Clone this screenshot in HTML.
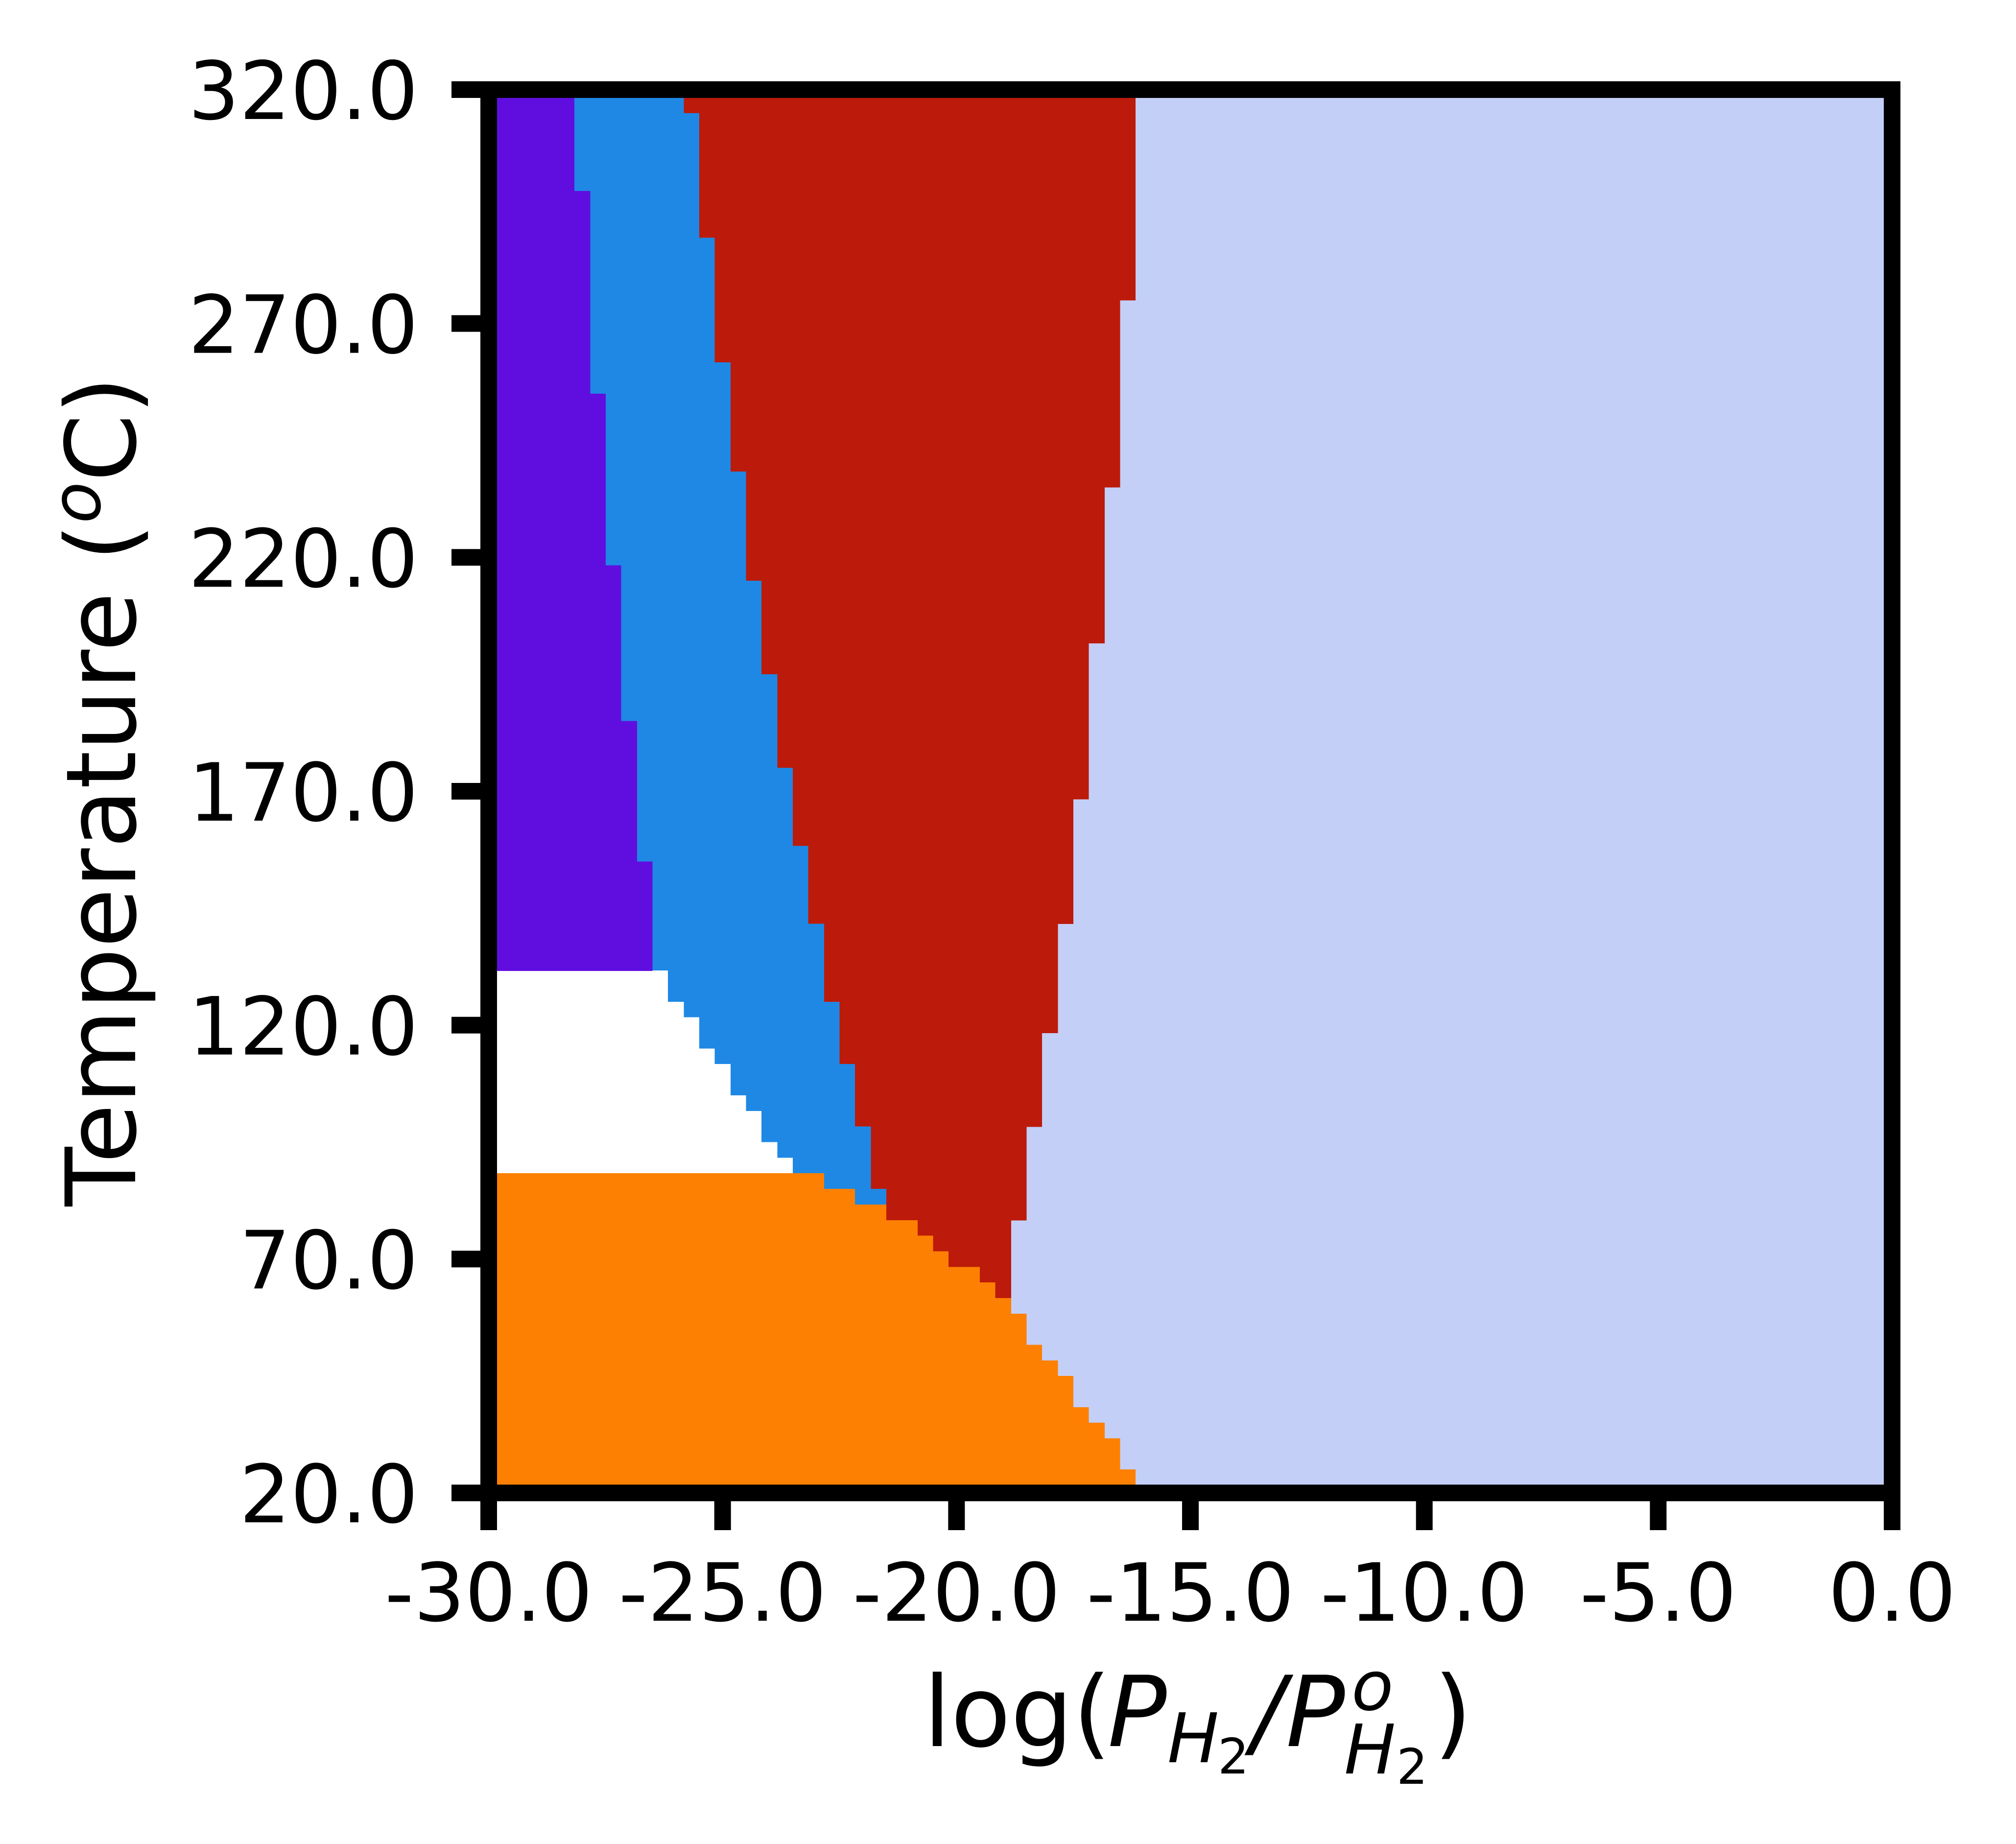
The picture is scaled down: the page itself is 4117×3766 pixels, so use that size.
<!DOCTYPE html>
<html><head><meta charset="utf-8"><style>
html,body{margin:0;padding:0;background:#fff;}
svg{display:block;}
text{font-family:"DejaVu Sans","Liberation Sans",sans-serif;fill:#000;}
</style></head>
<body>
<svg id="chart" xmlns="http://www.w3.org/2000/svg" width="4117" height="3766" viewBox="0 0 4117 3766">
<rect width="4117" height="3766" fill="#fff"/>
<g id="regions"></g>
<g id="axes"></g>
<text transform="translate(276,1616) rotate(-90)" text-anchor="middle" font-size="198">Temperature (<tspan font-style="italic" font-size="139" dy="-72">o</tspan><tspan dy="72">C)</tspan></text>
<g>
<text x="1886" y="3566" font-size="200">log(</text>
<text x="2262" y="3566" font-size="200" font-style="italic">P</text>
<text x="2384" y="3599" font-size="140" font-style="italic">H</text>
<text x="2487" y="3622" font-size="100">2</text>
<text x="2556" y="3566" font-size="200" font-style="italic">/</text>
<text x="2626" y="3566" font-size="200" font-style="italic">P</text>
<text x="2760" y="3492" font-size="140" font-style="italic">o</text>
<text x="2745" y="3622" font-size="140" font-style="italic">H</text>
<text x="2852" y="3643" font-size="100">2</text>
<text x="2928" y="3566" font-size="200">)</text>
</g>
</svg>
<script>
// Step boundaries: T band edges (°C) and x boundary value (log P) per band
const redT = [61.67, 78.33, 98.33, 118.33, 141.67, 168.33, 201.67, 235, 275, 320];
const redX = [-18.83, -18.5, -18.17, -17.83, -17.5, -17.17, -16.83, -16.5, -16.17];
const blueT = [78.33, 85, 98.33, 111.67, 125, 141.67, 158.33, 175, 195, 215, 238.33, 261.67, 288.33, 315, 320];
const blueX = [-21.5, -21.83, -22.17, -22.5, -22.83, -23.17, -23.5, -23.83, -24.17, -24.5, -24.83, -25.17, -25.5, -25.83];
const whiteT = [88.33, 91.67, 95, 101.67, 105, 111.67, 115, 121.67, 125, 131.67];
const whiteX = [-23.5, -23.83, -24.17, -24.5, -24.83, -25.17, -25.5, -25.83, -26.17];
const purpleT = [131.67, 155, 185, 218.33, 255, 298.33, 320];
const purpleX = [-26.5, -26.83, -27.17, -27.5, -27.83, -28.17];
const orangeT = [20, 25, 31.67, 35, 38.33, 45, 48.33, 51.67, 58.33, 61.67, 65, 68.33, 71.67, 75, 78.33, 81.67, 85, 88.33];
const orangeX = [-16.17, -16.5, -16.83, -17.17, -17.5, -17.83, -18.17, -18.5, -18.83, -19.17, -19.5, -20.17, -20.5, -20.83, -21.5, -22.17, -22.83];
const xTicks = [-30, -25, -20, -15, -10, -5, 0];
const yTicks = [20, 70, 120, 170, 220, 270, 320];
const xTickLabels = ["-30.0", "-25.0", "-20.0", "-15.0", "-10.0", "-5.0", "0.0"];
const yTickLabels = ["20.0", "70.0", "120.0", "170.0", "220.0", "270.0", "320.0"];

const X0 = 998, X1 = 3864, Y0 = 3049, Y1 = 183;
const XMIN = -30, XMAX = 0, TMIN = 20, TMAX = 320;
function sx(v){ return X0 + (v - XMIN) / (XMAX - XMIN) * (X1 - X0); }
function sy(t){ return Y0 - (t - TMIN) / (TMAX - TMIN) * (Y0 - Y1); }
const NS = "http://www.w3.org/2000/svg";
const regions = document.getElementById('regions');
const axes = document.getElementById('axes');

function bg(){
  const r = document.createElementNS(NS, 'rect');
  r.setAttribute('x', sx(XMIN)); r.setAttribute('y', sy(TMAX));
  r.setAttribute('width', sx(XMAX) - sx(XMIN)); r.setAttribute('height', sy(TMIN) - sy(TMAX));
  r.setAttribute('fill', '#c4cff7');
  
  
  regions.appendChild(r);
}
function layer(ts, xs, color, name){
  const g = document.createElementNS(NS, 'g');
  
  
  for (let i = 0; i < xs.length; i++){
    const r = document.createElementNS(NS, 'rect');
    const top = sy(ts[i+1]), bot = sy(ts[i]);
    r.setAttribute('x', sx(XMIN));
    r.setAttribute('y', top);
    r.setAttribute('width', Math.max(0, sx(xs[i]) - sx(XMIN)));
    r.setAttribute('height', bot - top + 0.6);
    r.setAttribute('fill', color);
    r.setAttribute('shape-rendering', 'crispEdges');
    
    
    g.appendChild(r);
  }
  regions.appendChild(g);
}
bg();
layer(redT, redX, '#bc1a0a', 'region-red');
layer(blueT, blueX, '#1f88e4', 'region-blue');
layer(whiteT, whiteX, '#ffffff', 'region-white');
layer(purpleT, purpleX, '#600ee0', 'region-purple');
layer(orangeT, orangeX, '#fd8002', 'region-orange');

// spines
const sp = document.createElementNS(NS, 'rect');
sp.setAttribute('x', X0); sp.setAttribute('y', Y1);
sp.setAttribute('width', X1 - X0); sp.setAttribute('height', Y0 - Y1);
sp.setAttribute('fill', 'none'); sp.setAttribute('stroke', '#000'); sp.setAttribute('stroke-width', 34);


axes.appendChild(sp);

xTicks.forEach((v, i) => {
  const x = sx(v);
  const t = document.createElementNS(NS, 'rect');
  t.setAttribute('x', x - 17); t.setAttribute('y', Y0); t.setAttribute('width', 34); t.setAttribute('height', 76);
  t.setAttribute('fill', '#000');
  
  
  axes.appendChild(t);
  const l = document.createElementNS(NS, 'text');
  l.setAttribute('x', x); l.setAttribute('y', 3310);
  l.setAttribute('text-anchor', 'middle'); l.setAttribute('font-size', 164);
  l.textContent = xTickLabels[i];
  
  
  axes.appendChild(l);
});
yTicks.forEach((v, i) => {
  const y = sy(v);
  const t = document.createElementNS(NS, 'rect');
  t.setAttribute('x', X0 - 76); t.setAttribute('y', y - 17); t.setAttribute('width', 76); t.setAttribute('height', 34);
  t.setAttribute('fill', '#000');
  
  
  axes.appendChild(t);
  const l = document.createElementNS(NS, 'text');
  l.setAttribute('x', 854); l.setAttribute('y', y + 60);
  l.setAttribute('text-anchor', 'end'); l.setAttribute('font-size', 164);
  l.textContent = yTickLabels[i];
  
  
  axes.appendChild(l);
});
</script>
</body></html>
